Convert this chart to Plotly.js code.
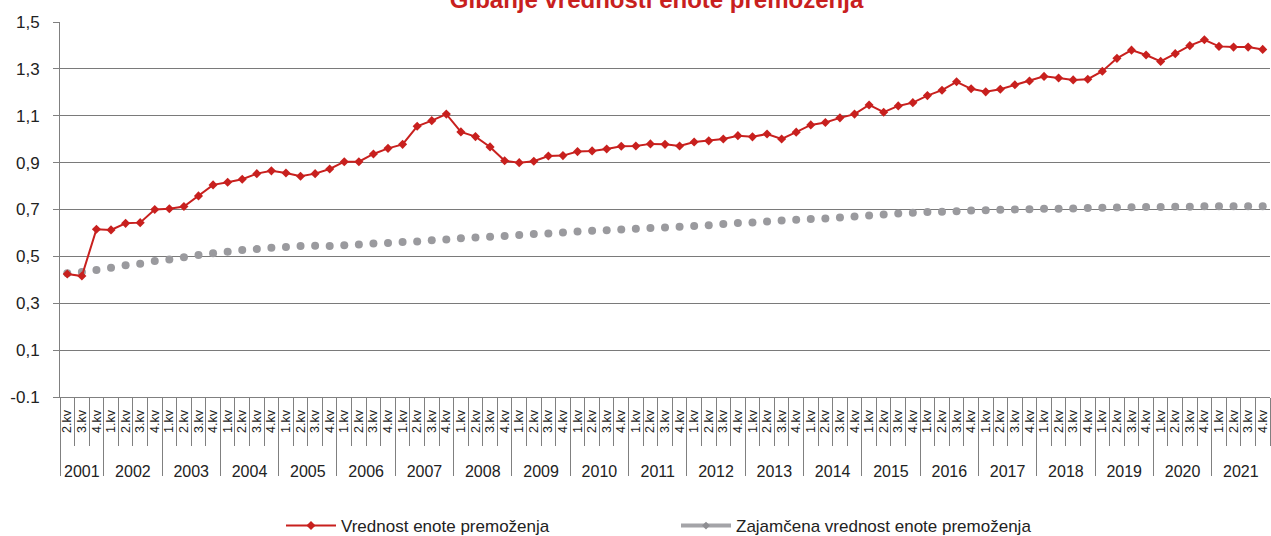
<!DOCTYPE html>
<html><head><meta charset="utf-8">
<script src="https://cdn.plot.ly/plotly-3.0.1.min.js"></script>
<style>html,body{margin:0;padding:0;background:#fff}#chart{width:1271px;height:536px}</style>
</head><body><div id="chart"></div>
<script>
const years = [2001,2002,2003,2004,2005,2006,2007,2008,2009,2010,2011,2012,2013,2014,2015,2016,2017,2018,2019,2020,2021];
const quarterNames = ['1.kv','2.kv','3.kv','4.kv'];
const firstQuarterIndex = 1; // series starts with 2.kv 2001
const seriesNames = ['Vrednost enote premoženja','Zajamčena vrednost enote premoženja'];
const chartTitle = 'Gibanje vrednosti enote premoženja';
const vrednost = [0.425,0.416,0.616,0.613,0.641,0.644,0.700,0.703,0.713,0.758,0.805,0.816,0.829,0.853,0.865,0.856,0.842,0.853,0.873,0.904,0.904,0.937,0.961,0.978,1.055,1.079,1.107,1.031,1.011,0.967,0.908,0.900,0.906,0.928,0.930,0.947,0.950,0.958,0.970,0.971,0.980,0.978,0.971,0.988,0.993,1.001,1.015,1.010,1.022,1.001,1.030,1.061,1.071,1.091,1.107,1.146,1.115,1.142,1.156,1.186,1.209,1.245,1.215,1.202,1.213,1.232,1.248,1.268,1.261,1.253,1.256,1.290,1.345,1.380,1.359,1.332,1.365,1.399,1.424,1.396,1.393,1.393,1.383];
const zajamcena = [0.428,0.433,0.442,0.452,0.462,0.469,0.480,0.487,0.496,0.506,0.513,0.520,0.527,0.531,0.537,0.540,0.544,0.545,0.544,0.548,0.551,0.555,0.557,0.561,0.564,0.569,0.572,0.577,0.581,0.584,0.587,0.591,0.595,0.598,0.602,0.606,0.609,0.612,0.615,0.618,0.621,0.623,0.626,0.630,0.633,0.638,0.642,0.645,0.649,0.653,0.656,0.660,0.662,0.666,0.670,0.674,0.679,0.683,0.686,0.689,0.690,0.693,0.696,0.697,0.699,0.700,0.701,0.703,0.703,0.704,0.706,0.707,0.709,0.710,0.711,0.711,0.712,0.712,0.714,0.714,0.714,0.714,0.714];
const yTickVals = [-0.1,0.1,0.3,0.5,0.7,0.9,1.1,1.3,1.5];
const yTickText = ['-0.1','0,1','0,3','0,5','0,7','0,9','1,1','1,3','1,5'];

const catKeys = [], catQuarter = [], yearBounds = [], yearCenters = [];
years.forEach((yr, k) => {
  const q0 = k === 0 ? firstQuarterIndex : 0;
  const a = catKeys.length;
  for (let q = q0; q < 4; q++) { catKeys.push(yr + ' ' + quarterNames[q]); catQuarter.push(quarterNames[q]); }
  yearBounds.push(a - 0.5);
  yearCenters.push((a + catKeys.length - 1) / 2);
});
const N = catKeys.length;
const quarterBounds = Array.from({length: N + 1}, (_, i) => i - 0.5);

const FONT = 'Liberation Sans, Arial, Helvetica, sans-serif';
const RED = '#c8201e', GREY = '#9a9a9e', AX = '#808080';

const traces = [
  {x: catKeys, y: zajamcena, type: 'scatter', mode: 'markers', name: seriesNames[1], showlegend: false,
   marker: {color: GREY, size: 8, symbol: 'circle'}, hoverinfo: 'skip'},
  {x: catKeys, y: vrednost, type: 'scatter', mode: 'lines+markers', name: seriesNames[0],
   line: {color: RED, width: 2}, marker: {color: RED, size: 7, symbol: 'diamond'}},
  {x: [catKeys[0]], y: [null], type: 'scatter', mode: 'lines+markers', name: seriesNames[1],
   line: {color: '#a4a4a8', width: 4}, marker: {color: '#8e8e92', size: 6, symbol: 'diamond'}},
  {x: [0], y: [null], xaxis: 'x2', showlegend: false, hoverinfo: 'skip', type: 'scatter'},
  {x: [0], y: [null], xaxis: 'x3', showlegend: false, hoverinfo: 'skip', type: 'scatter'},
  {x: [0], y: [null], xaxis: 'x4', showlegend: false, hoverinfo: 'skip', type: 'scatter'}
];

const overlayBase = {overlaying: 'x', anchor: 'y', side: 'bottom', range: [-0.5, N - 0.5], showgrid: false,
  zeroline: false, showline: false, fixedrange: true, tickmode: 'array'};

const layout = {
  width: 1271, height: 536,
  margin: {l: 60, r: 1, t: 22, b: 139, pad: 0, autoexpand: false},
  paper_bgcolor: '#fff', plot_bgcolor: '#fff',
  font: {family: FONT, color: '#222'},
  title: {text: chartTitle, font: {family: FONT, size: 24, color: RED, weight: 'bold'},
    xref: 'paper', x: 0.493, xanchor: 'center', yref: 'container', y: 1, yanchor: 'middle', pad: {t: 0, b: 0}},
  xaxis: {type: 'category', range: [-0.5, N - 0.5], tickmode: 'array', tickvals: catKeys, ticktext: catQuarter,
    tickangle: -90, ticks: '', showgrid: false, zeroline: false, showline: true, linecolor: AX,
    tickfont: {size: 12.5, color: '#222'}, ticklabelstandoff: 7, fixedrange: true},
  xaxis2: Object.assign({}, overlayBase, {tickvals: quarterBounds, ticks: 'outside', ticklen: 48,
    tickcolor: AX, tickwidth: 1, showticklabels: false}),
  xaxis3: Object.assign({}, overlayBase, {tickvals: yearBounds, ticks: 'outside', ticklen: 78,
    tickcolor: AX, tickwidth: 1, showticklabels: false}),
  xaxis4: Object.assign({}, overlayBase, {tickvals: yearCenters, ticktext: years.map(String), ticks: '',
    tickfont: {size: 16, color: '#222'}, ticklabelstandoff: 63}),
  yaxis: {range: [-0.1, 1.5], tickmode: 'array', tickvals: yTickVals, ticktext: yTickText,
    showgrid: true, gridcolor: '#7a7a7a', gridwidth: 1, zeroline: false,
    showline: true, linecolor: AX, ticks: 'outside', ticklen: 6, tickcolor: AX,
    tickfont: {size: 17, color: '#222'}, ticklabelstandoff: 10, fixedrange: true},
  legend: {orientation: 'h', xref: 'container', x: 281 / 1271, xanchor: 'left', yref: 'container', y: 1 - 526 / 536, yanchor: 'middle',
    font: {size: 17, color: '#222'}, entrywidth: 330, entrywidthmode: 'pixels', itemwidth: 50,
    bgcolor: 'rgba(0,0,0,0)', traceorder: 'normal'},
  showlegend: true
};

Plotly.newPlot('chart', traces, layout, {displayModeBar: false, staticPlot: true});
</script>
</body></html>
